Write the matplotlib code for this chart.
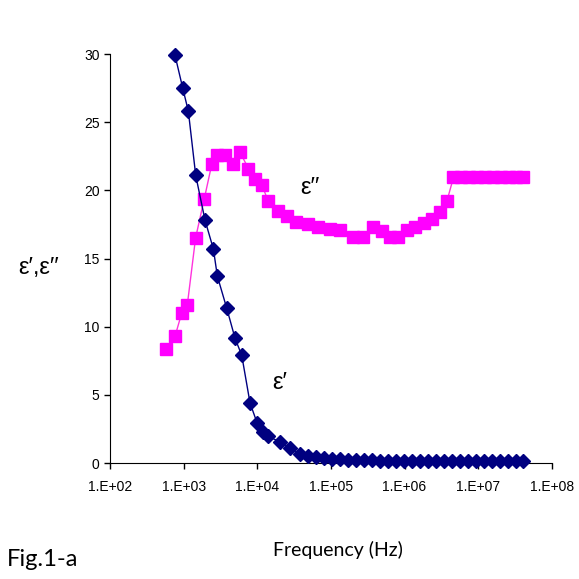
import matplotlib.pyplot as plt
from matplotlib.ticker import FixedLocator, NullLocator

# real permittivity (eps') vs frequency
freq_re = [764, 972, 1159, 1459, 1954, 2534, 2872, 3852, 4990, 6154,
           7977, 9933, 12100, 14150, 20400, 27900, 38200, 49000, 63000, 80900,
           104000, 133000, 171000, 220000, 282000, 363000, 466000, 598000, 769000, 988000,
           1.27e6, 1.63e6, 2.09e6, 2.69e6, 3.45e6, 4.43e6, 5.69e6, 7.31e6, 9.39e6, 1.21e7,
           1.55e7, 1.99e7, 2.56e7, 3.28e7, 4.08e7]
eps_re = [29.9, 27.5, 25.8, 21.1, 17.8, 15.7, 13.7, 11.35, 9.15, 7.9,
          4.4, 2.95, 2.3, 1.95, 1.55, 1.1, 0.65, 0.55, 0.45, 0.37,
          0.3, 0.27, 0.25, 0.22, 0.2, 0.19, 0.18, 0.17, 0.17, 0.16,
          0.16, 0.15, 0.15, 0.15, 0.14, 0.14, 0.14, 0.14, 0.13, 0.13,
          0.13, 0.13, 0.12, 0.12, 0.12]

# imaginary permittivity (eps'') vs frequency
freq_im = [571, 764, 942, 1122, 1452, 1910, 2408, 2818, 3654, 4735,
           5834, 7568, 9330, 11500, 14150, 19400, 25200, 33700, 49500, 67600,
           97500, 133000, 202000, 277000, 378000, 492000, 637000, 826000, 1.07e6, 1.39e6,
           1.81e6, 2.35e6, 3.05e6, 3.76e6, 4.62e6, 5.87e6, 7.55e6, 9.69e6, 1.24e7, 1.60e7,
           2.05e7, 2.64e7, 3.28e7, 4.12e7]
eps_im = [8.4, 9.3, 11.0, 11.6, 16.5, 19.4, 21.9, 22.6, 22.6, 21.9,
          22.8, 21.6, 20.8, 20.4, 19.2, 18.5, 18.1, 17.7, 17.5, 17.3,
          17.2, 17.1, 16.6, 16.6, 17.3, 17.0, 16.6, 16.6, 17.1, 17.3,
          17.6, 17.9, 18.4, 19.2, 20.95, 20.95, 20.95, 20.95, 20.95, 20.95,
          20.95, 20.95, 20.95, 20.95]

xticks = [1e2, 1e3, 1e4, 1e5, 1e6, 1e7, 1e8]
xtick_labels = ["1.E+02", "1.E+03", "1.E+04", "1.E+05", "1.E+06", "1.E+07", "1.E+08"]
yticks = [0, 5, 10, 15, 20, 25, 30]

plt.rcParams["font.family"] = ["Liberation Sans", "DejaVu Sans"]

fig = plt.figure(figsize=(5.79, 5.79), dpi=100)
ax = fig.add_axes([0.19, 0.2003, 0.763, 0.7064])

ax.plot(freq_im, eps_im, color="#ff33dd", lw=1.0, marker="s", markersize=8.5,
        markerfacecolor="#ff00ff", markeredgecolor="#ff00ff", clip_on=False, zorder=3)
ax.plot(freq_re, eps_re, color="#000080", lw=1.0, marker="D", markersize=6.8,
        markerfacecolor="#000080", markeredgecolor="#000080", clip_on=False, zorder=4)

ax.set_xscale("log")
ax.set_xlim(1e2, 1e8)
ax.set_ylim(0, 30)
ax.xaxis.set_major_locator(FixedLocator(xticks))
ax.xaxis.set_minor_locator(NullLocator())
ax.set_xticklabels(xtick_labels)
ax.set_yticks(yticks)
ax.tick_params(direction="out", length=4, width=1, labelsize=10, colors="black")
ax.tick_params(axis="x", pad=8)

for side in ["top", "right"]:
    ax.spines[side].set_visible(False)

ax.text(20400, 5.9, "\u03b5\u2032", fontsize=17, ha="center", va="center")
ax.text(52000, 20.2, "\u03b5\u2032\u2032", fontsize=17, ha="center", va="center")

fig.text(0.066, 0.537, "\u03b5\u2032,\u03b5\u2032\u2032", fontsize=17, ha="center", va="center")
fig.text(0.584, 0.05, "Frequency (Hz)", fontsize=14, ha="center", va="center",
         family=["Lato", "DejaVu Sans"])
fig.text(0.012, 0.033, "Fig.1-a", fontsize=17, ha="left", va="center",
         family=["Lato", "DejaVu Sans"])

fig.savefig("out.png", dpi=100)
